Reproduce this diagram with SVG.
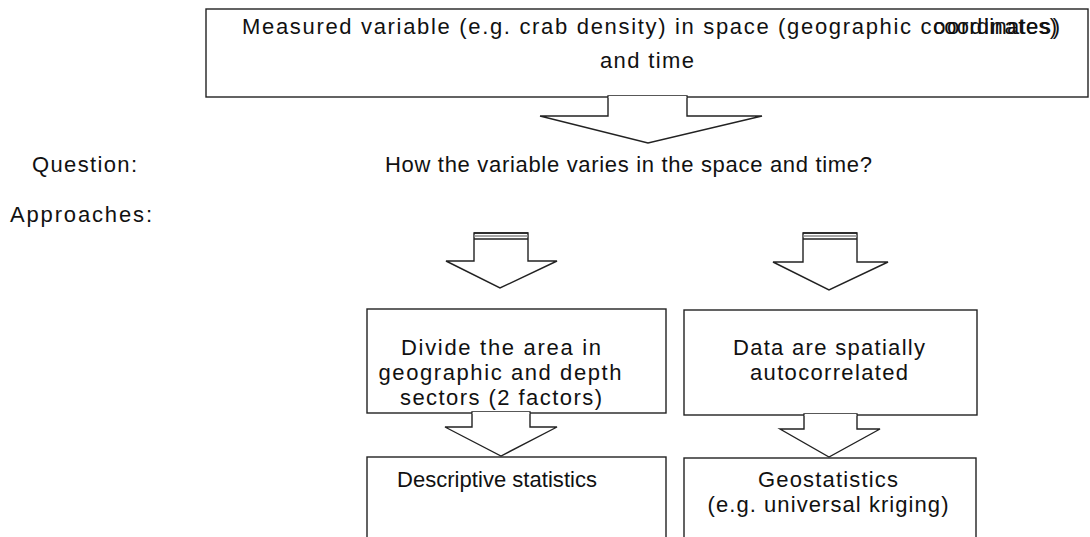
<svg xmlns="http://www.w3.org/2000/svg" width="1090" height="537" viewBox="0 0 1090 537">
<style>
text{font-family:"Liberation Sans",Arial,sans-serif;font-size:22px;fill:#111}
.box{fill:#fff;stroke:#222;stroke-width:1.4}
.arrow{fill:#fff;stroke:#222;stroke-width:1.4;stroke-linejoin:miter}
.band{stroke:#222;stroke-width:1.5}
.band2{stroke:#888;stroke-width:1.5}
.m{text-anchor:middle}
</style>
<rect width="1090" height="537" fill="#fff"/>
<g id="top-node">
<rect class="box" x="206" y="9" width="882" height="88"/>
<text x="242" y="34" textLength="818">Measured variable (e.g. crab density) in space (geographic coordinates)</text>
<text x="933" y="34" textLength="124">coordinates)</text>
<text class="m" x="647" y="68" textLength="94">and time</text>
</g>
<g id="labels">
<text x="32" y="172" textLength="105">Question:</text>
<text x="10" y="222" textLength="142">Approaches:</text>
</g>
<g id="question">
<text x="385" y="172" textLength="487">How the variable varies in the space and time?</text>
</g>
<g id="sectors-node">
<rect class="box" x="367" y="309" width="299" height="104"/>
<text class="m" x="501" y="355" textLength="200">Divide the area in</text>
<text class="m" x="500" y="380" textLength="243">geographic and depth</text>
<text class="m" x="501" y="405" textLength="202">sectors (2 factors)</text>
</g>
<g id="autocorrelated-node">
<rect class="box" x="684" y="310" width="293" height="105"/>
<text class="m" x="829" y="355" textLength="192">Data are spatially</text>
<text class="m" x="829" y="380" textLength="158">autocorrelated</text>
</g>
<g id="descriptive-node">
<rect class="box" x="367" y="457" width="299" height="90"/>
<text x="397" y="487" textLength="200">Descriptive statistics</text>
</g>
<g id="geostatistics-node">
<rect class="box" x="684" y="458" width="292" height="90"/>
<text class="m" x="828" y="487" textLength="140">Geostatistics</text>
<text class="m" x="828" y="512" textLength="241">(e.g. universal kriging)</text>
</g>
<g id="connectors">
<polygon class="arrow" points="608,96 608,116 540,116 648,143 762,116 687,116 687,96"/>
<line x1="608.7" y1="97" x2="686.3" y2="97" stroke="#fff" stroke-width="2"/>
<polygon class="arrow" points="474,233 474,261 446,261 500,288 557,261 528,261 528,233"/>
<line class="band" x1="474" y1="233" x2="528" y2="233"/>
<line class="band2" x1="474" y1="236" x2="528" y2="236"/>
<line class="band" x1="474" y1="239" x2="528" y2="239"/>
<polygon class="arrow" points="803,233 803,262 773,262 829,290 888,262 857,262 857,233"/>
<line class="band" x1="803" y1="233" x2="857" y2="233"/>
<line class="band2" x1="803" y1="236" x2="857" y2="236"/>
<line class="band" x1="803" y1="239" x2="857" y2="239"/>
<polygon class="arrow" points="472,412 472,427 445,427 501,456 557,427 530,427 530,412"/>
<line x1="472.7" y1="413" x2="529.3" y2="413" stroke="#fff" stroke-width="2"/>
<polygon class="arrow" points="804,414 804,429 780,429 829,457 880,429 857,429 857,414"/>
<line x1="804.7" y1="415" x2="856.3" y2="415" stroke="#fff" stroke-width="2"/>
</g>
</svg>
